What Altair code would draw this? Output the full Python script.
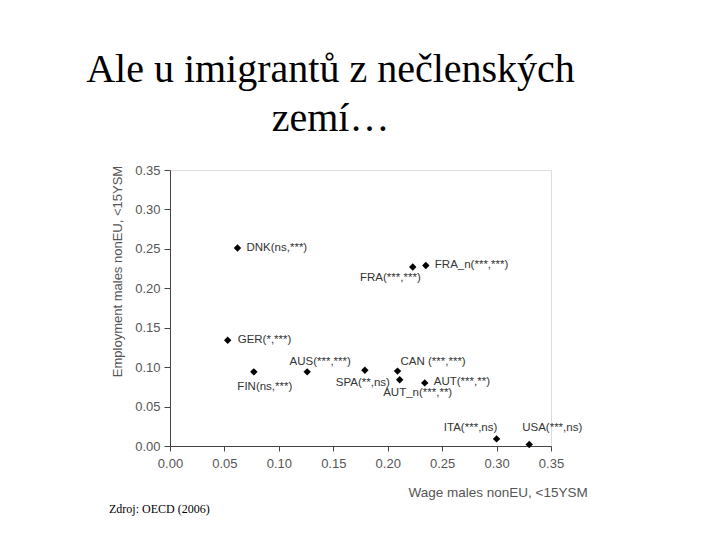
import altair as alt
import pandas as pd

# ---- data ----
countries = ["DNK", "FRA", "FRA_n", "GER", "FIN", "AUS", "SPA", "CAN", "AUT_n", "AUT", "ITA", "USA"]
labels = ["DNK(ns,***)", "FRA(***,***)", "FRA_n(***,***)", "GER(*,***)", "FIN(ns,***)",
          "AUS(***,***)", "SPA(**,ns)", "CAN (***,***)", "AUT_n(***,**)", "AUT(***,**)",
          "ITA(***,ns)", "USA(***,ns)"]
wage = [0.062, 0.223, 0.235, 0.053, 0.077, 0.126, 0.179, 0.209, 0.211, 0.234, 0.300, 0.330]
employment = [0.251, 0.227, 0.229, 0.134, 0.094, 0.094, 0.096, 0.095, 0.084, 0.080, 0.009, 0.002]
ticks = [0.00, 0.05, 0.10, 0.15, 0.20, 0.25, 0.30, 0.35]

title_lines = ["Ale u imigrantů z nečlenských", "zemí…"]
x_title = "Wage males nonEU, <15YSM"
y_title = "Employment males nonEU, <15YSM"
source = "Zdroj: OECD  (2006)"

df = pd.DataFrame({"country": countries, "label": labels, "wage": wage, "employment": employment})

# label placement (layout only): align, dx, dy
placement = {
    "DNK": ("left", 9, 0), "FRA": ("right", 8, 11), "FRA_n": ("left", 9, 0),
    "GER": ("left", 10, 0), "FIN": ("center", 11, 15), "AUS": ("center", 13, -10),
    "SPA": ("center", -2, 13), "CAN": ("left", 3, -9), "AUT_n": ("center", 18, 13),
    "AUT": ("left", 9, -1), "ITA": ("center", -26, -11), "USA": ("center", 23, -16),
}

W, H = 381, 276

x_enc = alt.X("wage:Q", scale=alt.Scale(domain=[0, 0.35], nice=False, zero=False),
              axis=alt.Axis(values=ticks, format=".2f", title=x_title, grid=False,
                            labelOverlap=False, labelFlush=False,
                            domainColor="#444", tickColor="#444", tickSize=5,
                            labelColor="#555", labelFont="Liberation Sans", labelFontSize=13,
                            labelPadding=6,
                            titleFont="Liberation Sans", titleFontSize=13.5, titleFontWeight="normal",
                            titleColor="#555", titleAlign="left", titleBaseline="middle",
                            titleX=238, titleY=46))
y_enc = alt.Y("employment:Q", scale=alt.Scale(domain=[0, 0.35], nice=False, zero=False),
              axis=alt.Axis(values=ticks, format=".2f", title=y_title, grid=False,
                            labelOverlap=False, labelFlush=False,
                            domainColor="#444", tickColor="#444", tickSize=6,
                            labelColor="#555", labelFont="Liberation Sans", labelFontSize=13,
                            labelPadding=4,
                            titleFont="Liberation Sans", titleFontSize=13, titleFontWeight="normal",
                            titleColor="#555", titleAlign="center", titleBaseline="middle",
                            titleX=-53, titleY=101))

base = alt.Chart(df).encode(x=x_enc, y=y_enc)
points = base.mark_point(shape="diamond", filled=True, size=55, color="black", opacity=1)

layers = [points]
for c in countries:
    al, dx, dy = placement[c]
    layers.append(
        base.transform_filter(alt.datum.country == c).mark_text(
            align=al, baseline="middle", dx=dx, dy=dy, font="Liberation Sans",
            fontSize=11.5, color="#333").encode(text="label:N"))

src = alt.Chart(pd.DataFrame({"t": [source]})).mark_text(
    align="left", baseline="alphabetic", font="Liberation Serif", fontSize=12, color="black"
).encode(x=alt.value(109 - 170), y=alt.value(513 - 170), text="t:N")
layers.append(src)

chart = alt.layer(*layers).properties(
    width=W, height=H,
    title=alt.TitleParams(text=title_lines, font="Liberation Serif", fontSize=40,
                          fontWeight="normal", color="black", anchor="middle",
                          lineHeight=49, offset=25, dx=-30),
    autosize=alt.AutoSizeParams(type="none"),
    padding={"left": 162, "top": 162, "right": 161, "bottom": 86},
).configure_view(stroke="#999", strokeWidth=1).configure(background="white")

chart.save("out.html", embed_options={"renderer": "svg", "actions": False})
